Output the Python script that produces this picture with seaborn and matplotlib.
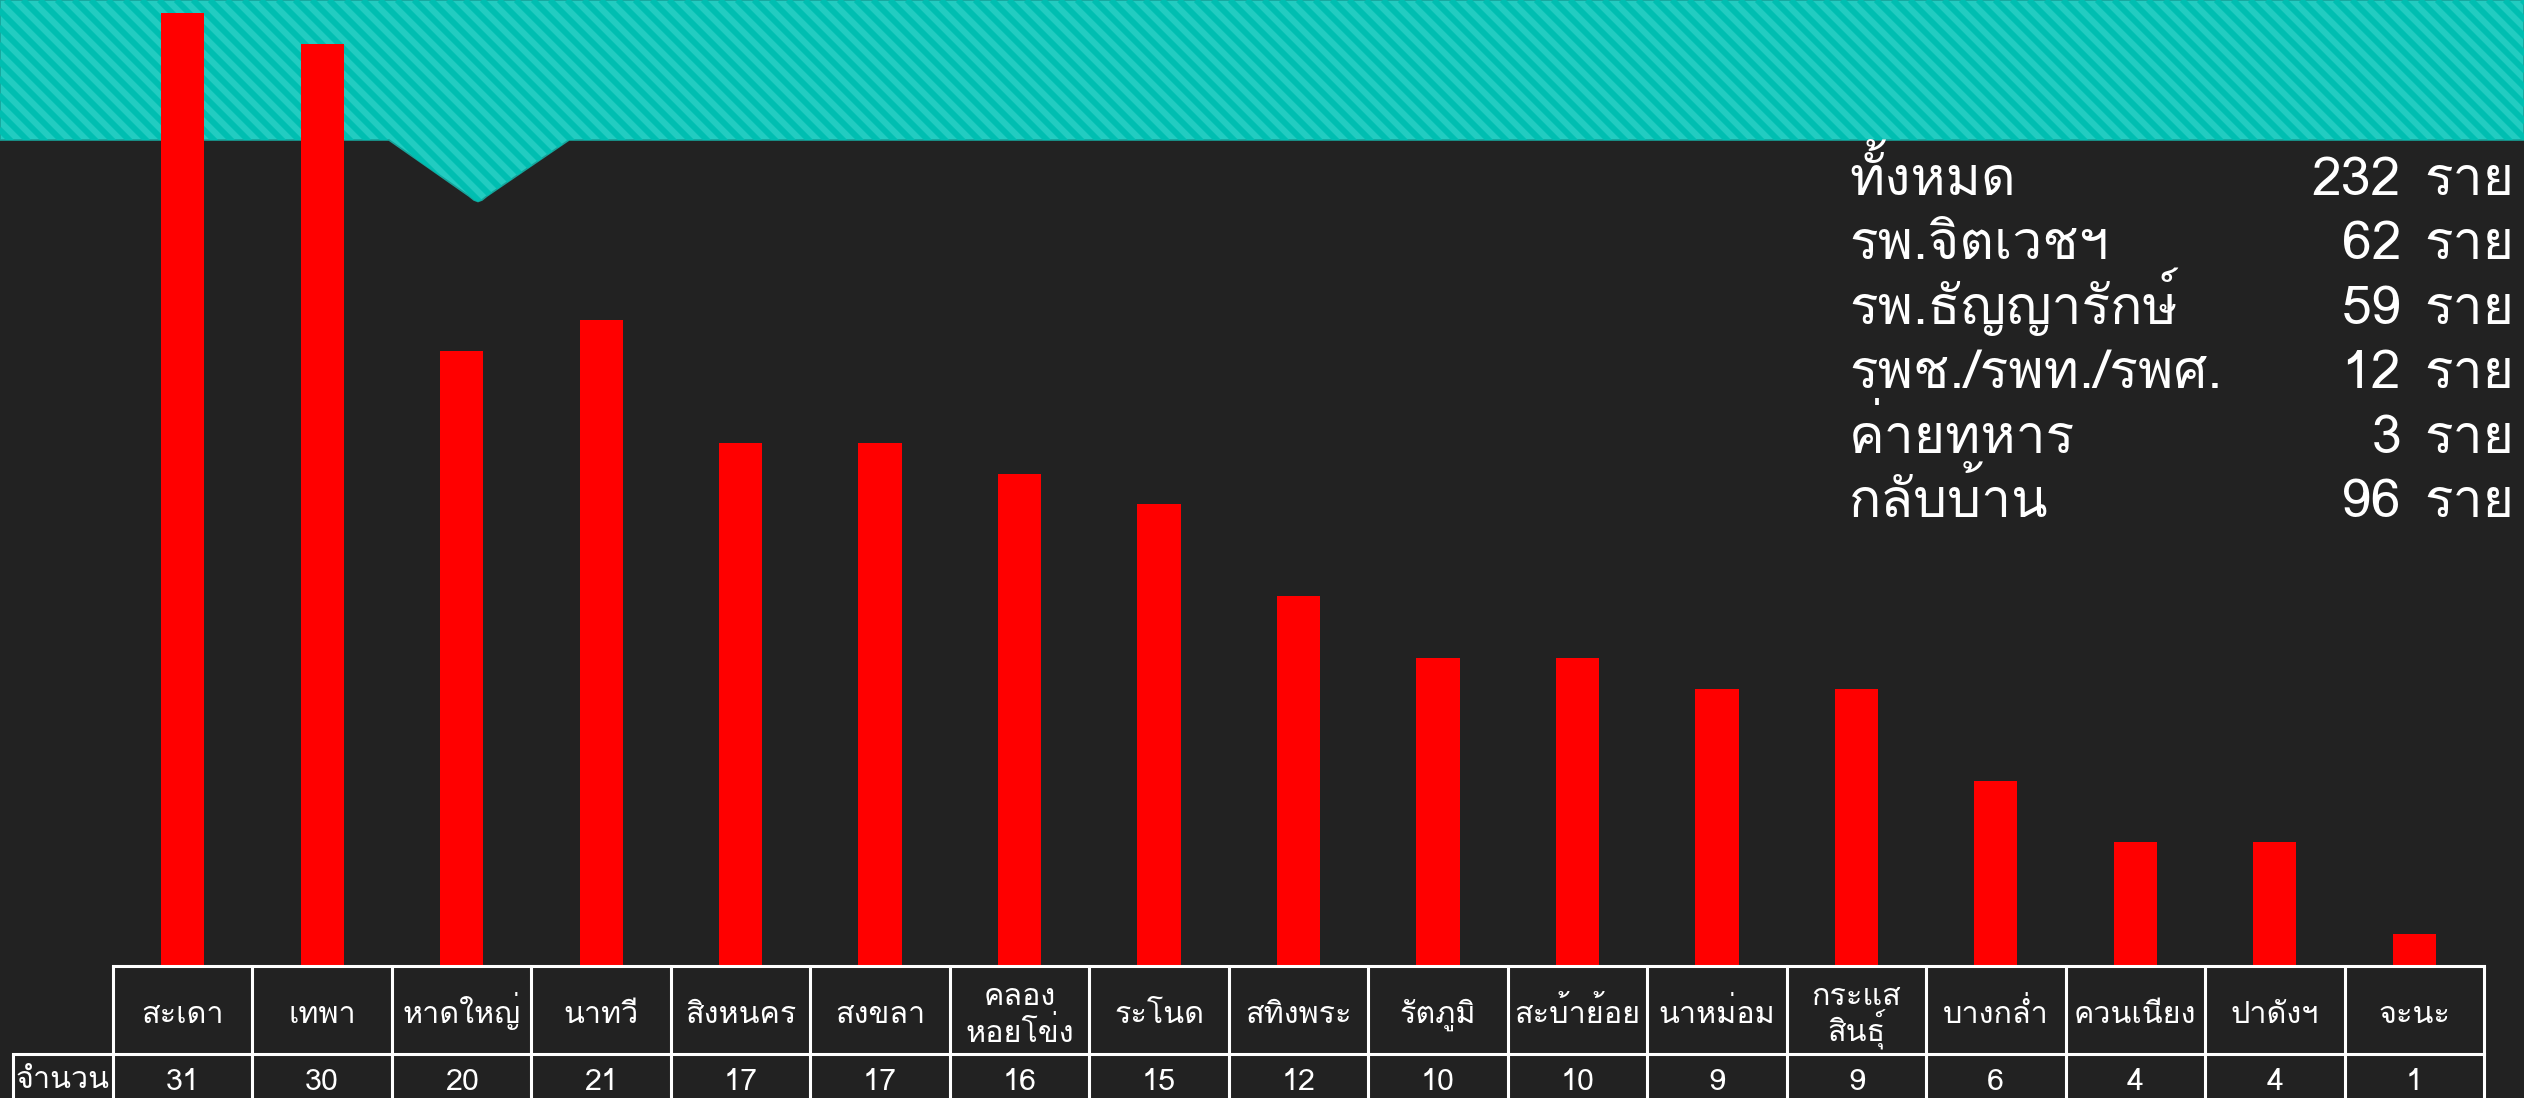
import os, glob
import matplotlib
matplotlib.use("Agg")
import matplotlib.pyplot as plt
from matplotlib import font_manager as fm
from matplotlib.patches import Polygon
import seaborn as sns
import numpy as np
import pandas as pd

# ---------------- data ----------------
districts = ["สะเดา", "เทพา", "หาดใหญ่", "นาทวี", "สิงหนคร", "สงขลา", "คลอง\nหอยโข่ง",
             "ระโนด", "สทิงพระ", "รัตภูมิ", "สะบ้าย้อย", "นาหม่อม", "กระแส\nสินธุ์",
             "บางกล่ำ", "ควนเนียง", "ปาดังฯ", "จะนะ"]
counts = [31, 30, 20, 21, 17, 17, 16, 15, 12, 10, 10, 9, 9, 6, 4, 4, 1]
row_label = "จำนวน"
summary_labels = ["ทั้งหมด", "รพ.จิตเวชฯ", "รพ.ธัญญารักษ์", "รพช./รพท./รพศ.", "ค่ายทหาร", "กลับบ้าน"]
summary_values = [232, 62, 59, 12, 3, 96]
summary_unit = "ราย"

# ---------------- fonts ----------------
sns.set_theme(style="white")
thai_family = "DejaVu Sans"
cands = ["/usr/share/fonts/opentype/tlwg/Loma.otf", "/usr/share/fonts/truetype/tlwg/Loma.ttf"]
cands += glob.glob("/usr/share/fonts/**/Loma.*", recursive=True)
cands += glob.glob("/usr/share/fonts/**/Sarabun-Regular.ttf", recursive=True)
for cand in cands:
    if os.path.exists(cand):
        fm.fontManager.addfont(cand)
        thai_family = fm.FontProperties(fname=cand).get_name()
        break
plt.rcParams["font.family"] = [thai_family, "DejaVu Sans"]

W, H = 2524, 1098
BG = "#222222"
fig = plt.figure(figsize=(W / 100, H / 100), dpi=100, facecolor=BG)

# ---------------- background / banner (pixel coords) ----------------
bg = fig.add_axes([0, 0, 1, 1], zorder=0)
bg.set_xlim(0, W)
bg.set_ylim(H, 0)
bg.axis("off")
bg.add_patch(plt.Rectangle((0, 0), W, H, color=BG, zorder=0))
banner_pts = [(0, 0), (W, 0), (W, 140), (569, 140), (487, 196), (482, 200), (478, 201.5),
              (474, 200), (469, 196), (389, 140), (0, 140)]
banner = Polygon(banner_pts, closed=True, facecolor="#22ccc1", edgecolor="#17a39a", lw=1.2, zorder=1)
bg.add_patch(banner)
for x0 in np.arange(-300, W + 50, 17.0):
    ln, = bg.plot([x0, x0 + 260], [0, 260], color="#00beb1", lw=4.2, zorder=2, solid_capstyle="butt")
    ln.set_clip_path(banner)

# ---------------- bars ----------------
x0f, x1f = 113 / W, 2484 / W
base_y = 965
ax = fig.add_axes([x0f, (H - base_y) / H, x1f - x0f, base_y / H], zorder=2)
ax.patch.set_alpha(0)
df = pd.DataFrame({"district": districts, "count": counts})
sns.barplot(data=df, x="district", y="count", order=districts, color="#ff0000",
            saturation=1, width=0.31, ax=ax, linewidth=0)
ax.set_xlim(-0.5, len(districts) - 0.5)
ax.set_ylim(0, base_y / 952 * 31)
ax.axis("off")

# ---------------- table ----------------
tab = fig.add_axes([x0f, 0, x1f - x0f, (H - base_y) / H], zorder=3)
tab.patch.set_alpha(0)
tab.set_xlim(-0.5, len(districts) - 0.5)
tab.set_ylim(H - base_y, 0)   # y = pixels below the table top (965)
tab.axis("off")
n = len(districts)
colw_px = (2484 - 113) / n
left_cell = -0.5 - (113 - 13) / colw_px
lw = 2.2
tab.plot([-0.5, n - 0.5], [1, 1], color="white", lw=lw, clip_on=False, solid_capstyle="projecting")
tab.plot([left_cell, n - 0.5], [89, 89], color="white", lw=lw, clip_on=False, solid_capstyle="projecting")
for i in range(n + 1):
    tab.plot([i - 0.5, i - 0.5], [1, 140], color="white", lw=lw, clip_on=False)
tab.plot([left_cell, left_cell], [89, 140], color="white", lw=lw, clip_on=False)
FS_T = 22
for i, (d, c) in enumerate(zip(districts, counts)):
    parts = d.split("\n")
    if len(parts) == 1:
        tab.text(i, 58, d, color="white", fontsize=FS_T, ha="center", va="baseline", clip_on=False)
    else:
        tab.text(i, 40, parts[0], color="white", fontsize=FS_T, ha="center", va="baseline", clip_on=False)
        tab.text(i, 77, parts[1], color="white", fontsize=FS_T, ha="center", va="baseline", clip_on=False)
    tab.text(i, 125, str(c), color="white", fontsize=FS_T, ha="center", va="baseline", clip_on=False)
tab.text((left_cell - 0.5) / 2, 123, row_label, color="white", fontsize=FS_T, ha="center",
         va="baseline", clip_on=False)

# ---------------- summary text ----------------
FS_S = 38.5
base0, step = 195, 64.4
for k, (lab, v) in enumerate(zip(summary_labels, summary_values)):
    y = base0 + k * step
    bg.text(1849, y, lab, color="white", fontsize=FS_S, ha="left", va="baseline", zorder=5)
    bg.text(2401, y, str(v), color="white", fontsize=FS_S, ha="right", va="baseline", zorder=5)
    bg.text(2514, y, summary_unit, color="white", fontsize=FS_S, ha="right", va="baseline", zorder=5)

fig.savefig("out.png", dpi=100, facecolor=BG)
